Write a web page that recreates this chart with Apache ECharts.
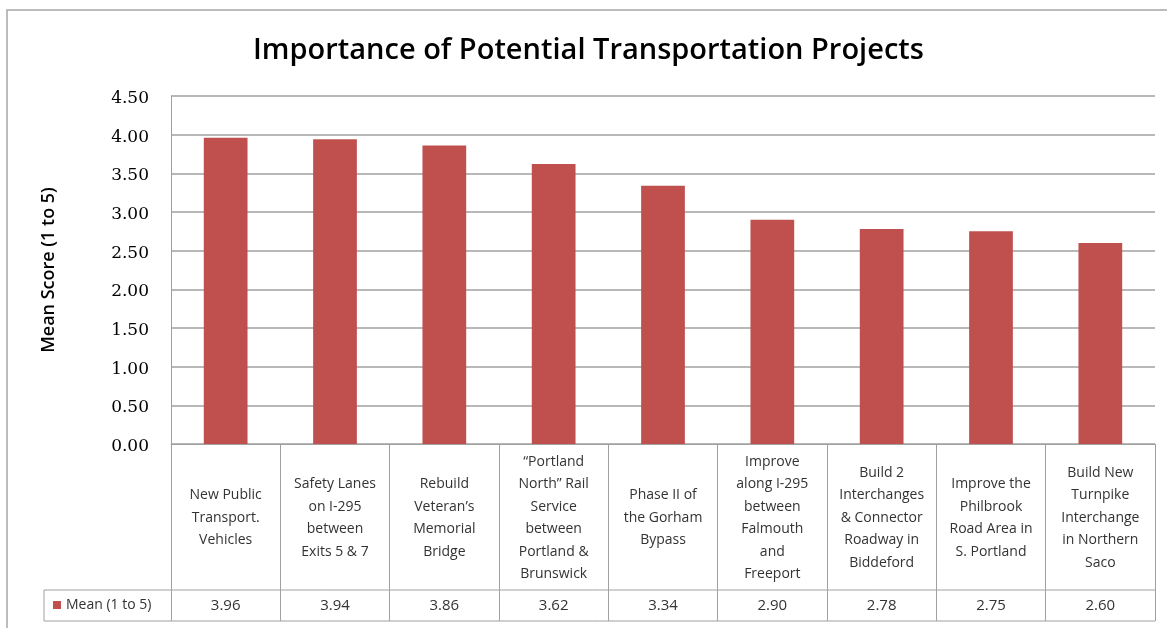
<!DOCTYPE html>
<html>
<head>
<meta charset="utf-8">
<script src="https://cdn.jsdelivr.net/npm/echarts@6/dist/echarts.min.js"></script>
<style>html,body{margin:0;padding:0;background:#fff}#c{width:1167px;height:628px}</style>
</head>
<body>
<div id="c"></div>
<script>
const categories = [
  "New Public\nTransport.\nVehicles",
  "Safety Lanes\non I-295\nbetween\nExits 5 & 7",
  "Rebuild\nVeteran’s\nMemorial\nBridge",
  "“Portland\nNorth” Rail\nService\nbetween\nPortland &\nBrunswick",
  "Phase II of\nthe Gorham\nBypass",
  "Improve\nalong I-295\nbetween\nFalmouth\nand\nFreeport",
  "Build 2\nInterchanges\n& Connector\nRoadway in\nBiddeford",
  "Improve the\nPhilbrook\nRoad Area in\nS. Portland",
  "Build New\nTurnpike\nInterchange\nin Northern\nSaco"
];
const meanValues = [3.96, 3.94, 3.86, 3.62, 3.34, 2.90, 2.78, 2.75, 2.60];
const seriesName = "Mean (1 to 5)";
const yTicks = {min: 0, max: 4.5, interval: 0.5};

const gridLeft = 171, gridRight = 1155, gridTop = 96, axisY = 444;
const catRowH = 146, valRowH = 31, legendCellLeft = 44;
const lineCol = '#a0a0a0';
const uiFont = '"Open Sans", Lato, sans-serif';

const chart = echarts.init(document.getElementById('c'));
chart.setOption({
  animation: false,
  backgroundColor: '#fff',
  title: {
    text: 'Importance of Potential Transportation Projects',
    left: 253, top: 36, padding: 0,
    textStyle: {fontFamily: uiFont, fontWeight: 600, fontSize: 29, color: '#000'}
  },
  legend: {
    data: [seriesName],
    left: legendCellLeft + 9, top: 598, padding: 0,
    itemWidth: 8, itemHeight: 8, itemGap: 0, icon: 'rect',
    textStyle: {fontFamily: uiFont, fontSize: 14, color: '#333'}
  },
  grid: {left: gridLeft, right: 1167 - gridRight, top: gridTop, bottom: 628 - axisY, containLabel: false},
  xAxis: [{
    type: 'category', data: categories, position: 'bottom',
    axisLine: {show: true, lineStyle: {color: lineCol, width: 1}},
    axisTick: {show: true, length: catRowH + valRowH, lineStyle: {color: lineCol, width: 1}},
    axisLabel: {interval: 0, margin: 74, verticalAlign: 'middle', fontFamily: uiFont, fontSize: 14, lineHeight: 22.5, color: '#333', align: 'center'}
  }, {
    type: 'category', data: meanValues.map(v => v.toFixed(2)), position: 'bottom', offset: catRowH,
    axisLine: {show: false}, axisTick: {show: false},
    axisLabel: {interval: 0, margin: 16, verticalAlign: 'middle', fontFamily: uiFont, fontSize: 15, color: '#333'}
  }],
  yAxis: {
    type: 'value', min: yTicks.min, max: yTicks.max, interval: yTicks.interval,
    name: 'Mean Score (1 to 5)', nameLocation: 'middle', nameGap: 113, nameRotate: 90,
    nameTextStyle: {fontFamily: uiFont, fontWeight: 600, fontSize: 18, color: '#000'},
    axisLine: {show: true, lineStyle: {color: lineCol, width: 1}},
    axisTick: {show: false},
    axisLabel: {
      margin: 22, formatter: v => '{n|' + v.toFixed(2) + '}',
      rich: {n: {fontFamily: '"DejaVu Serif", serif', fontSize: 17, color: '#000', padding: [5, 0, 0, 0]}}
    },
    splitLine: {show: true, lineStyle: {color: lineCol, width: 1.5}}
  },
  series: [{
    name: seriesName, type: 'bar', xAxisIndex: 0, data: meanValues,
    barWidth: '40%', itemStyle: {color: '#c0504d'}
  }],
  graphic: [
    {type: 'rect', shape: {x: 7, y: 10, width: 1200, height: 700}, style: {fill: 'none', stroke: '#a6a6a6', lineWidth: 1.5}, silent: true},
    {type: 'line', shape: {x1: legendCellLeft, y1: axisY + catRowH, x2: gridRight, y2: axisY + catRowH}, style: {stroke: lineCol, lineWidth: 1}},
    {type: 'line', shape: {x1: legendCellLeft, y1: axisY + catRowH + valRowH, x2: gridRight, y2: axisY + catRowH + valRowH}, style: {stroke: lineCol, lineWidth: 1}},
    {type: 'line', shape: {x1: legendCellLeft, y1: axisY + catRowH, x2: legendCellLeft, y2: axisY + catRowH + valRowH}, style: {stroke: lineCol, lineWidth: 1}}
  ]
});
</script>
</body>
</html>
